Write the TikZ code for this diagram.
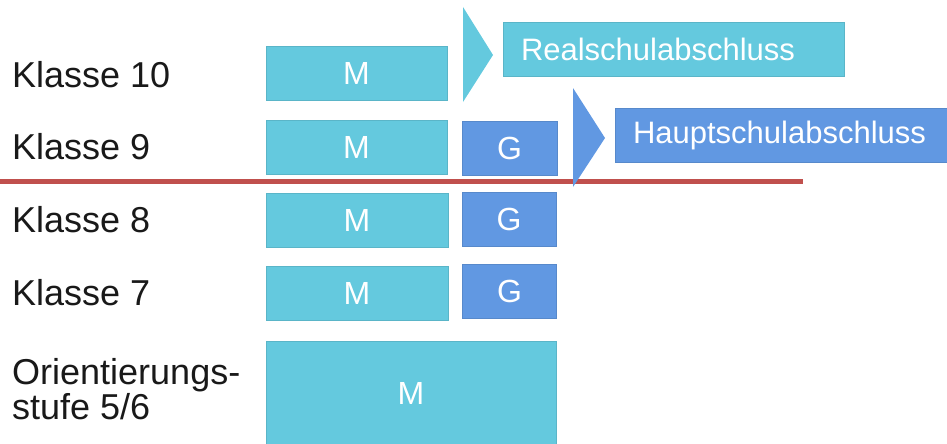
\documentclass[tikz,border=0pt]{standalone}
\usepackage{fontspec}
\setmainfont{Liberation Sans}
\definecolor{mcyan}{RGB}{100,201,222}
\definecolor{gblue}{RGB}{97,152,226}
\definecolor{redline}{RGB}{192,80,77}
\definecolor{labeltext}{RGB}{25,25,25}
\begin{document}
\begin{tikzpicture}[x=1pt,y=-1pt,
  boxbase/.style={inner sep=0pt, text=white, line width=0.6pt, font=\fontsize{32}{36}\selectfont},
  mbox/.style={boxbase, fill=mcyan, draw=mcyan!90!black},
  gbox/.style={boxbase, fill=gblue, draw=gblue!90!black},
  rowbox/.style={minimum height=54pt},
  endbox/.style={font=\fontsize{31}{36}\selectfont, align=left, inner xsep=18pt, minimum height=54pt},
  lbl/.style={anchor=west, inner sep=0pt, text=labeltext, font=\fontsize{36}{29}\selectfont, align=left}]
\useasboundingbox (0,0) rectangle (947,444);

% labels
\node[lbl] (k10) at (12,75) {Klasse 10};
\node[lbl] (k9)  at (12,147) {Klasse 9};
\node[lbl] (k8)  at (12,220) {Klasse 8};
\node[lbl] (k7)  at (12,293) {Klasse 7};
\node[lbl] (k56) at (12,389) {Orientierungs-\\stufe 5/6};

% M boxes
\node[mbox, rowbox, minimum width=181pt] (m10) at (356.5,73.5) {M};
\node[mbox, rowbox, minimum width=181pt] (m9)  at (356.5,147) {M};
\node[mbox, rowbox, minimum width=182pt] (m8)  at (357,220) {M};
\node[mbox, rowbox, minimum width=182pt] (m7)  at (357,293.5) {M};
\node[mbox, minimum width=290pt, minimum height=104pt] (m56) at (411,393) {M};

% G boxes
\node[gbox, rowbox, minimum width=95pt] (g9) at (509.5,148.5) {G};
\node[gbox, rowbox, minimum width=94pt] (g8) at (509,219.5) {G};
\node[gbox, rowbox, minimum width=94pt] (g7) at (509.5,291.5) {G};

% divider
\coordinate (rl) at (0,181);
\coordinate (rr) at (803,181);
\draw[redline, line width=5pt] (rl) -- (rr);

% arrow markers
\fill[mcyan] (463,7) -- (463,102) -- (493,55) -- cycle;
\fill[gblue] (573,88) -- (573,187) -- (605,138) -- cycle;

% end boxes
\node[mbox, endbox, text width=305pt] (real) at (673.5,49.5) {\mbox{Realschulabschluss}};
\node[gbox, endbox, text width=296pt] (haupt) at (781,135) {\mbox{Hauptschulabschluss}};
\end{tikzpicture}
\end{document}
